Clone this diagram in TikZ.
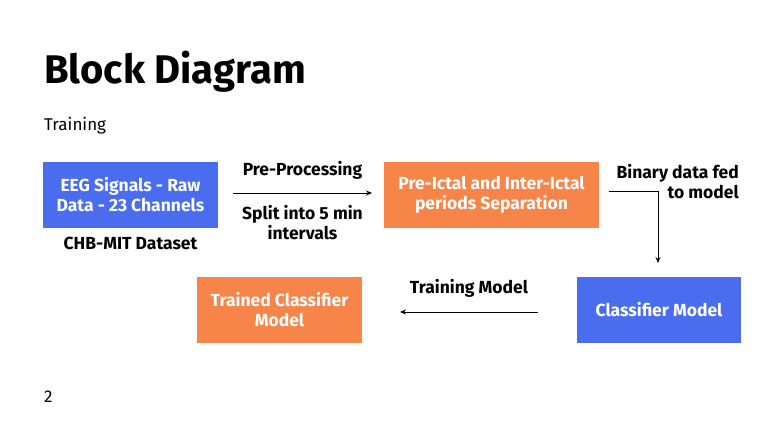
\documentclass[tikz,border=0pt]{standalone}
\usepackage{fontspec}
\setmainfont{Fira Sans}
\usetikzlibrary{arrows.meta, positioning}
\definecolor{slideblue}{HTML}{4A6CEF}
\definecolor{slideorange}{HTML}{F78449}

\begin{document}
\begin{tikzpicture}[
    x=1pt, y=-1pt,
    blk/.style={rectangle, minimum height=66pt, align=center, text=white, font=\fontsize{17.5}{20}\selectfont\bfseries, inner sep=0pt},
    lbl/.style={align=center, font=\fontsize{17.5}{20}\selectfont\bfseries, inner sep=0pt},
    arr/.style={-{Stealth[length=6pt, width=5pt]}, thick}
]
\useasboundingbox[fill=white] (0,0) rectangle (784,440);

\node[anchor=base west, font=\fontsize{40}{44}\selectfont\bfseries, inner sep=0pt] (title) at (44,83) {Block Diagram};
\node[anchor=base west, font=\fontsize{17}{20}\selectfont, inner sep=0pt] (phase) at (44,130) {Training};

\node[blk, fill=slideblue, minimum width=175pt] (eeg) at (130.5,195) {EEG Signals - Raw\\Data - 23 Channels};
\node[lbl, below=9pt of eeg] (dataset) {CHB-MIT Dataset};

\node[blk, fill=slideorange, minimum width=215pt] (sep) at (491.5,195) {Pre-Ictal and Inter-Ictal\\periods Separation};

\node[blk, fill=slideblue, minimum width=164pt] (clf) at (659,310) {Classifier Model};
\node[blk, fill=slideorange, minimum width=165pt] (trained) at (279.5,310) {Trained Classifier\\Model};

\coordinate (a1s) at (233,193);
\coordinate (a1e) at (372,193);
\draw[arr] (a1s) -- node[lbl, above=13pt]{Pre-Processing} node[lbl, below=12pt]{Split into 5 min\\intervals} (a1e);

\coordinate (a2s) at (609,191);
\coordinate (a2e) at (658,263);
\draw[arr] (a2s) -| (a2e);
\node[lbl, align=right, anchor=north east] (binlbl) at (739,164) {Binary data fed\\to model};

\coordinate (a3s) at (538,312);
\coordinate (a3e) at (400,312);
\draw[arr] (a3s) -- node[lbl, above=14pt]{Training Model} (a3e);

\node[anchor=base west, font=\fontsize{17}{20}\selectfont, inner sep=0pt] (pagenum) at (44,402) {2};
\end{tikzpicture}
\end{document}
